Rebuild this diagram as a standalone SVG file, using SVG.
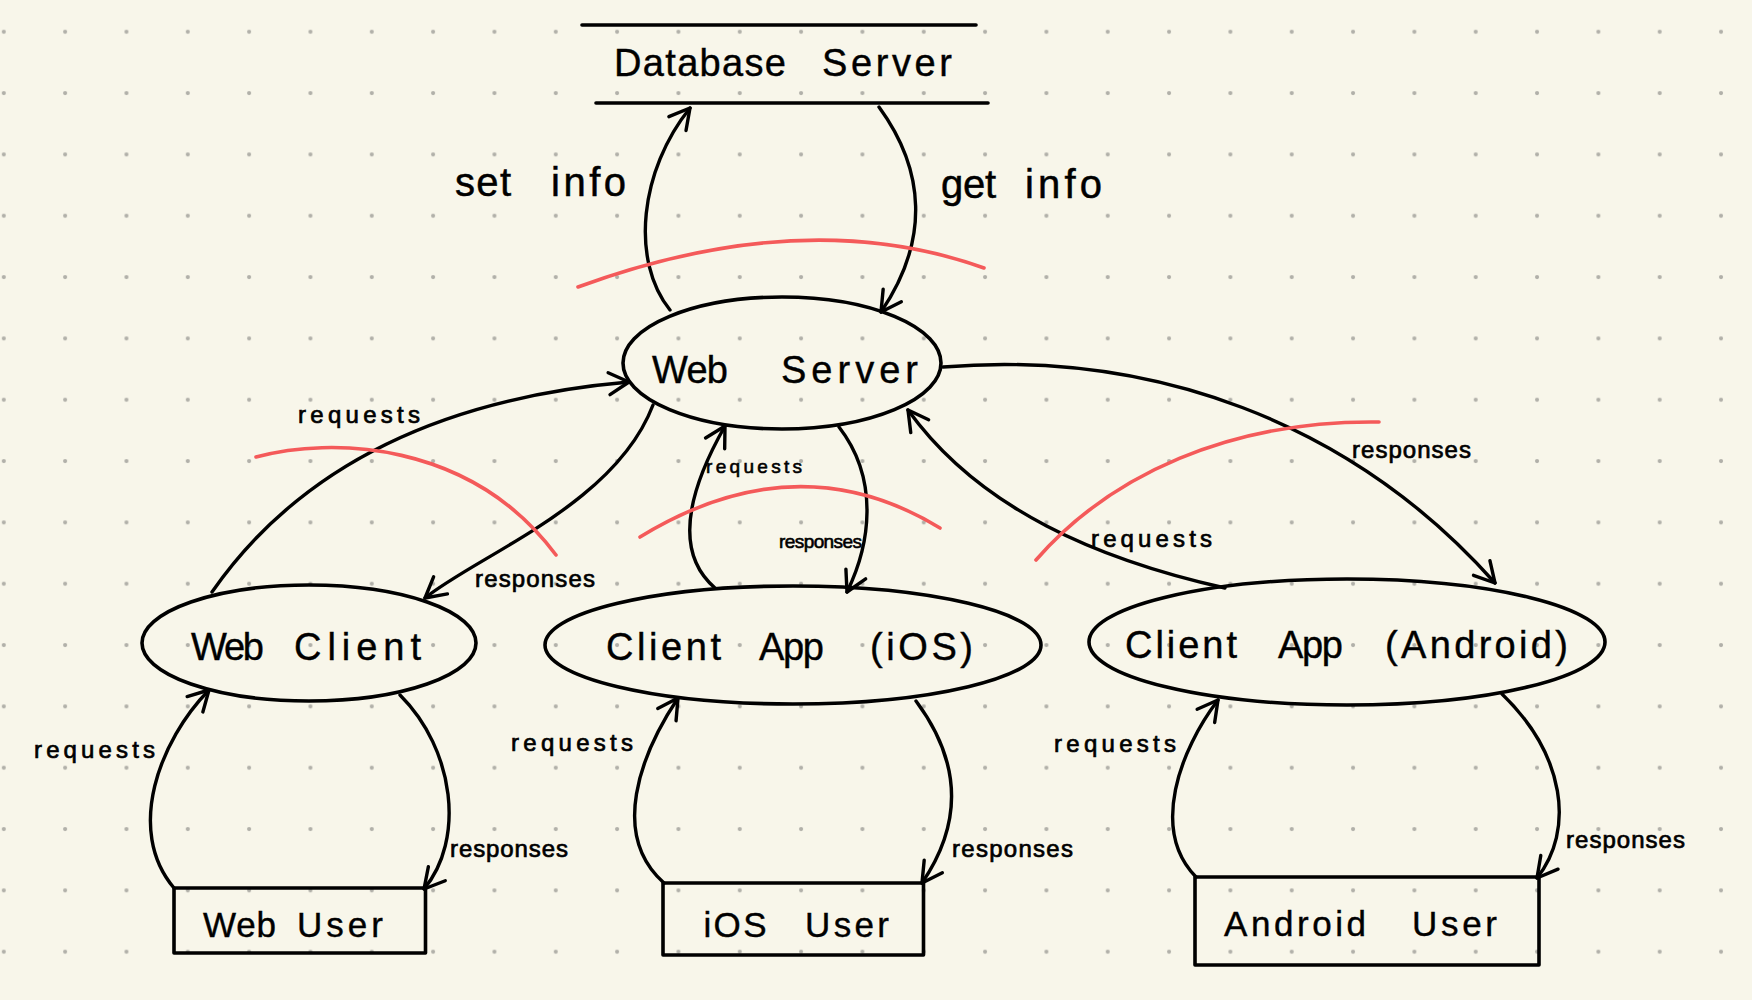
<svg xmlns="http://www.w3.org/2000/svg" width="1752" height="1000" viewBox="0 0 1752 1000">
  <defs>
    <pattern id="dots" patternUnits="userSpaceOnUse" x="-26.87" y="1.03" width="61.33" height="61.33">
      <circle cx="30.67" cy="30.67" r="2.1" fill="#b1b0a9"/>
    </pattern>
    <marker id="arrow" markerUnits="userSpaceOnUse" markerWidth="40" markerHeight="40" refX="0" refY="0" viewBox="-30 -20 40 40" orient="auto" overflow="visible">
      <path d="M-20,-11 L0,0 L-20,11" fill="none" stroke="#000" stroke-width="3.4" stroke-linecap="round" stroke-linejoin="round"/>
    </marker>
    <style>
      .shape { fill: none; stroke: #000; stroke-width: 3.6; stroke-linecap: round; stroke-linejoin: round; }
      .conn { fill: none; stroke: #000; stroke-width: 3.4; stroke-linecap: round; marker-end: url(#arrow); }
      .cut { fill: none; stroke: #f45a5a; stroke-width: 3.6; stroke-linecap: round; }
      .lbl { font-family: "Liberation Sans", "DejaVu Sans", sans-serif; fill: #000; }
      .node { font-size: 38px; stroke: #000; stroke-width: 0.4; }
      .user { font-size: 35px; stroke: #000; stroke-width: 0.4; }
      .big { font-size: 40px; stroke: #000; stroke-width: 0.5; }
      .small { font-size: 24px; stroke: #000; stroke-width: 0.7; }
      .tiny { font-size: 19px; stroke: #000; stroke-width: 0.6; }
    </style>
  </defs>

  <rect x="0" y="0" width="1752" height="1000" fill="#f8f6ea"/>
  <rect x="0" y="0" width="1752" height="1000" fill="url(#dots)"/>

  <g id="node-database-server">
    <line class="shape" x1="582" y1="25" x2="976" y2="25"/>
    <line class="shape" x1="596" y1="103" x2="988" y2="103"/>
    <text class="lbl node" y="76"><tspan x="614" textLength="172">Database</tspan> <tspan x="822" textLength="130">Server</tspan></text>
  </g>

  <g id="node-web-server">
    <ellipse class="shape" cx="782" cy="363" rx="159" ry="66"/>
    <text class="lbl node" y="383"><tspan x="652" textLength="76">Web</tspan> <tspan x="781" textLength="137">Server</tspan></text>
  </g>

  <g id="node-web-client">
    <ellipse class="shape" cx="309" cy="643" rx="167" ry="58"/>
    <text class="lbl node" y="660"><tspan x="191" textLength="73">Web</tspan> <tspan x="294" textLength="127">Client</tspan></text>
  </g>

  <g id="node-client-app-ios">
    <ellipse class="shape" cx="793" cy="645" rx="248" ry="59"/>
    <text class="lbl node" y="660"><tspan x="606" textLength="115">Client</tspan> <tspan x="759" textLength="65">App</tspan> <tspan x="870" textLength="103">(iOS)</tspan></text>
  </g>

  <g id="node-client-app-android">
    <ellipse class="shape" cx="1347" cy="642" rx="258" ry="63"/>
    <text class="lbl node" y="658"><tspan x="1125" textLength="112">Client</tspan> <tspan x="1278" textLength="65">App</tspan> <tspan x="1385" textLength="183">(Android)</tspan></text>
  </g>

  <g id="node-web-user">
    <rect class="shape" x="174" y="888" width="251.5" height="65"/>
    <text class="lbl user" y="937"><tspan x="203" textLength="73">Web</tspan> <tspan x="297" textLength="86">User</tspan></text>
  </g>

  <g id="node-ios-user">
    <rect class="shape" x="663" y="883" width="260.5" height="72"/>
    <text class="lbl user" y="937"><tspan x="703.5" textLength="63">iOS</tspan> <tspan x="805" textLength="84">User</tspan></text>
  </g>

  <g id="node-android-user">
    <rect class="shape" x="1195" y="877" width="344" height="88"/>
    <text class="lbl user" y="936"><tspan x="1224" textLength="142">Android</tspan> <tspan x="1412" textLength="85">User</tspan></text>
  </g>

  <g id="connectors">
    <path class="conn" d="M670,310 C 630,260 640,170 690,108"/>
    <path class="conn" d="M879,107 C 925,170 930,240 881,312"/>
    <path class="conn" d="M212,592 C 290,480 420,400 629,382"/>
    <path class="conn" d="M653,405 C 615,505 478,555 425,598"/>
    <path class="conn" d="M715,588 C 665,545 700,470 725,426"/>
    <path class="conn" d="M839,427 C 880,480 870,545 847,592"/>
    <path class="conn" d="M1225,588 C 1100,560 980,510 908,410"/>
    <path class="conn" d="M943,367 C 1150,350 1350,420 1495,583"/>
    <path class="conn" d="M174,888 C 125,830 160,740 209,690"/>
    <path class="conn" d="M400,695 C 455,750 465,840 424,889"/>
    <path class="conn" d="M664,883 C 610,835 640,755 678,698"/>
    <path class="conn" d="M916,701 C 960,760 965,820 922,883"/>
    <path class="conn" d="M1196,877 C 1150,830 1180,750 1218,700"/>
    <path class="conn" d="M1502,694 C 1565,755 1575,830 1537,878"/>
  </g>

  <g id="boundaries">
    <path class="cut" d="M578,287 Q 805,204 984,268"/>
    <path class="cut" d="M256,457 C 330,437 470,440 556,555"/>
    <path class="cut" d="M640,537 Q 797,441 940,528"/>
    <path class="cut" d="M1036,560 C 1110,475 1230,420 1379,422"/>
  </g>

  <g id="connector-labels">
    <text class="lbl big" y="196"><tspan x="455" textLength="56">set</tspan> <tspan x="551" textLength="75">info</tspan></text>
    <text class="lbl big" y="198"><tspan x="941" textLength="55">get</tspan> <tspan x="1025" textLength="77">info</tspan></text>
    <text class="lbl small" x="298" y="423" textLength="122">requests</text>
    <text class="lbl small" x="475" y="587" textLength="120">responses</text>
    <text class="lbl tiny" x="706" y="473" textLength="96">requests</text>
    <text class="lbl tiny" x="779" y="548" textLength="83">responses</text>
    <text class="lbl small" x="1091" y="547" textLength="121">requests</text>
    <text class="lbl small" x="1352" y="458" textLength="119">responses</text>
    <text class="lbl small" x="34" y="758" textLength="121">requests</text>
    <text class="lbl small" x="450" y="857" textLength="118">responses</text>
    <text class="lbl small" x="511" y="751" textLength="122">requests</text>
    <text class="lbl small" x="952" y="857" textLength="121">responses</text>
    <text class="lbl small" x="1054" y="752" textLength="122">requests</text>
    <text class="lbl small" x="1566" y="848" textLength="119">responses</text>
  </g>
</svg>
